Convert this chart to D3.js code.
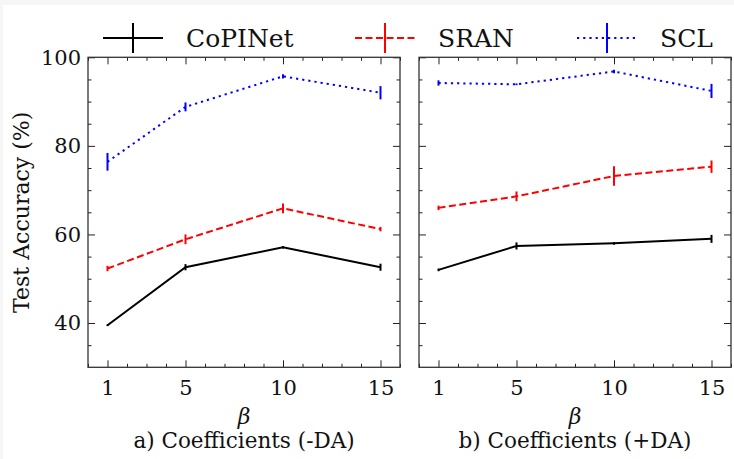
<!DOCTYPE html>
<html>
<head>
<meta charset="utf-8">
<script src="https://cdn.jsdelivr.net/npm/d3@7"></script>
<style>
  html, body { margin: 0; padding: 0; background: #f6f6f6; }
  svg { display: block; }
  svg text { font-family: "DejaVu Serif", serif; fill: #111; }
</style>
</head>
<body>
<svg id="chart" width="734" height="459"></svg>
<script>
// beta values on x
let betas = [1, 5, 10, 15];
let xMajor = [1, 5, 10, 15];
let yMajor = [40, 60, 80, 100];

let seriesNames = ['CoPINet', 'SRAN', 'SCL'];
let seriesColors = ['#000000', '#ff0000', '#0000ff'];
let seriesDash = [null, '7,3.5', '2.2,4'];

// a) -DA
let copinetNoDA = [39.5, 52.6, 57.1, 52.6];
let copinetNoDAErr = [0.2, 0.7, 0.3, 0.8];
let sranNoDA = [52.3, 58.9, 65.9, 61.2];
let sranNoDAErr = [0.6, 1.1, 1.1, 0.5];
let sclNoDA = [76.4, 88.8, 95.7, 92.0];
let sclNoDAErr = [2.0, 1.0, 0.5, 1.5];

// b) +DA
let copinetDA = [52.0, 57.4, 58.0, 59.0];
let copinetDAErr = [0.3, 0.8, 0.3, 0.9];
let sranDA = [66.0, 68.6, 73.2, 75.3];
let sranDAErr = [0.5, 1.1, 2.2, 1.4];
let sclDA = [94.2, 93.9, 96.8, 92.4];
let sclDAErr = [0.6, 0.2, 0.4, 1.6];

let panelTitles = ['a) Coefficients (-DA)', 'b) Coefficients (+DA)'];

let panels = [
  {title: panelTitles[0], left: 88, right: 400,
   values: [copinetNoDA, sranNoDA, sclNoDA], errs: [copinetNoDAErr, sranNoDAErr, sclNoDAErr]},
  {title: panelTitles[1], left: 419, right: 731,
   values: [copinetDA, sranDA, sclDA], errs: [copinetDAErr, sranDAErr, sclDAErr]}
];

let yTop = 57.3, yBottom = 367.3;
let font = '"DejaVu Serif", serif';

let svg = d3.select('#chart');
svg.append('rect')
  .attr('x', 3).attr('y', 5)
  .attr('width', 731).attr('height', 454)
  .attr('fill', 'white');

let sy = d3.scaleLinear().domain([30, 100]).range([yBottom, yTop]);
let minorX = d3.range(0, 17).filter(d => !xMajor.includes(d));
let minorY = d3.range(35, 100, 5).filter(d => !yMajor.includes(d));

panels.forEach((p, pi) => {
  let sx = d3.scaleLinear().domain([0, 16]).range([p.left, p.right]);
  let g = svg.append('g');
  let w = p.right - p.left;
  let h = yBottom - yTop;

  // ticks, all pointing inward
  let addAxis = (axis, transform, labels) => {
    let a = g.append('g').attr('transform', transform).call(axis);
    a.select('.domain').remove();
    a.attr('font-family', font);
    a.selectAll('line').attr('stroke', '#222').attr('stroke-width', 1);
    if (!labels) a.selectAll('text').remove();
    return a;
  };

  let xb = addAxis(d3.axisBottom(sx).tickValues(xMajor).tickSize(-7).tickPadding(13).tickFormat(d3.format('d')),
    `translate(0,${yBottom})`, true);
  xb.selectAll('text').attr('font-size', 21).attr('fill', '#111');
  addAxis(d3.axisBottom(sx).tickValues(minorX).tickSize(-3.5), `translate(0,${yBottom})`, false);
  addAxis(d3.axisTop(sx).tickValues(xMajor).tickSize(-7), `translate(0,${yTop})`, false);
  addAxis(d3.axisTop(sx).tickValues(minorX).tickSize(-3.5), `translate(0,${yTop})`, false);

  let yl = addAxis(d3.axisLeft(sy).tickValues(yMajor).tickSize(-7).tickPadding(7), `translate(${p.left},0)`, pi === 0);
  yl.selectAll('text').attr('font-size', 21).attr('fill', '#111');
  addAxis(d3.axisLeft(sy).tickValues(minorY).tickSize(-3.5), `translate(${p.left},0)`, false);
  addAxis(d3.axisRight(sy).tickValues(yMajor).tickSize(-7), `translate(${p.right},0)`, false);
  addAxis(d3.axisRight(sy).tickValues(minorY).tickSize(-3.5), `translate(${p.right},0)`, false);

  g.append('rect')
    .attr('x', p.left).attr('y', yTop)
    .attr('width', w).attr('height', h)
    .attr('fill', 'none').attr('stroke', '#333').attr('stroke-width', 1.3);

  let line = d3.line().x((d, i) => sx(betas[i])).y(d => sy(d));

  p.values.forEach((vals, si) => {
    let s = g.append('g');
    s.append('path')
      .datum(vals)
      .attr('d', line)
      .attr('fill', 'none')
      .attr('stroke', seriesColors[si])
      .attr('stroke-width', 2)
      .attr('stroke-dasharray', seriesDash[si]);
    s.selectAll('.err')
      .data(vals)
      .enter().append('line')
      .attr('class', 'err')
      .attr('x1', (d, i) => sx(betas[i]))
      .attr('x2', (d, i) => sx(betas[i]))
      .attr('y1', (d, i) => sy(d - p.errs[si][i]))
      .attr('y2', (d, i) => sy(d + p.errs[si][i]))
      .attr('stroke', seriesColors[si])
      .attr('stroke-width', 2);
  });

  let cx = (p.left + p.right) / 2;
  g.append('text')
    .attr('x', cx).attr('y', 424)
    .attr('text-anchor', 'middle')
    .attr('font-size', 22)
    .attr('font-style', 'italic')
    .text('β');
  g.append('text')
    .attr('x', cx).attr('y', 448)
    .attr('text-anchor', 'middle')
    .attr('font-size', 21.5)
    .text(p.title);
});

// y label
svg.append('text')
  .attr('transform', `translate(29,${(yTop + yBottom) / 2}) rotate(-90)`)
  .attr('text-anchor', 'middle')
  .attr('font-size', 22)
  .text('Test Accuracy (%)');

// legend
let legendX = [103, 355, 577];
let legendY = 38;
let leg = svg.append('g');
seriesNames.forEach((name, i) => {
  let x0 = legendX[i];
  leg.append('line')
    .attr('x1', x0).attr('x2', x0 + 60)
    .attr('y1', legendY).attr('y2', legendY)
    .attr('stroke', seriesColors[i]).attr('stroke-width', 2)
    .attr('stroke-dasharray', seriesDash[i]);
  leg.append('line')
    .attr('x1', x0 + 30).attr('x2', x0 + 30)
    .attr('y1', legendY - 15).attr('y2', legendY + 15)
    .attr('stroke', seriesColors[i]).attr('stroke-width', 2);
  leg.append('text')
    .attr('x', x0 + 83).attr('y', legendY + 9)
    .attr('font-size', 25)
    .text(name);
});
</script>
</body>
</html>
